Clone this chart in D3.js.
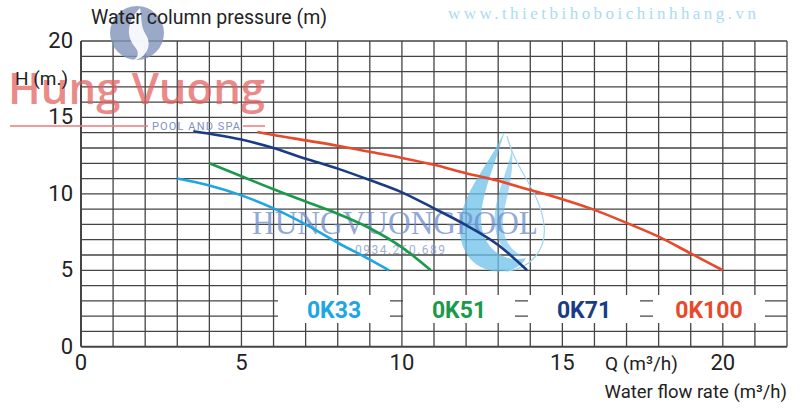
<!DOCTYPE html>
<html>
<head>
<meta charset="utf-8">
<script src="https://cdn.jsdelivr.net/npm/d3@7"></script>
<style>
  html, body { margin: 0; padding: 0; background: #fff; }
  svg { display: block; }
</style>
</head>
<body>
<svg id="chart" width="800" height="413"></svg>
<script>
// ---- Data ----
const xTickLabels = [0, 5, 10, 15, 20];
const yTickLabels = [0, 5, 10, 15, 20];
const seriesNames = ["0K33", "0K51", "0K71", "0K100"];
const seriesColors = ["#1da6e3", "#1b9a4b", "#1a3b85", "#e8492b"];
const q0K33  = [3, 4, 5, 6, 7, 8, 9, 9.6];
const h0K33  = [11, 10.55, 9.9, 9.05, 8.0, 6.8, 5.7, 5.0];
const q0K51  = [4, 5, 6, 7, 8, 9, 10, 10.9];
const h0K51  = [12, 11.15, 10.3, 9.5, 8.7, 7.75, 6.5, 5.0];
const q0K71  = [3.5, 5, 6, 7, 8, 9, 10, 11, 12, 13, 13.9];
const h0K71  = [14.1, 13.55, 13.0, 12.3, 11.65, 10.9, 10.1, 9.05, 7.95, 6.65, 5.0];
const q0K100 = [5.5, 6, 7, 8, 9, 10, 11, 12, 13, 14, 15, 16, 17, 18, 19, 20];
const h0K100 = [14.05, 13.85, 13.5, 13.15, 12.75, 12.35, 11.9, 11.35, 10.85, 10.25, 9.65, 8.95, 8.1, 7.2, 6.1, 5.0];
const seriesQ = [q0K33, q0K51, q0K71, q0K100];
const seriesH = [h0K33, h0K51, h0K71, h0K100];

// ---- Layout ----
const svg = d3.select("#chart");
const pL = 81, pR = 787, pT = 41, pB = 346.7;
const x = d3.scaleLinear().domain([0, 22]).range([pL, pR]);
const y = d3.scaleLinear().domain([0, 20]).range([pB, pT]);
const font = "Roboto, 'Noto Sans', sans-serif";

// ---- Grid ----
const grid = svg.append("g");
grid.selectAll("line.v").data(d3.range(0, 23)).enter().append("line")
  .attr("x1", d => x(d)).attr("x2", d => x(d))
  .attr("y1", pT).attr("y2", pB)
  .attr("stroke", "#454545").attr("stroke-width", d => d === 0 ? 2 : 1.3);
grid.selectAll("line.h").data(d3.range(0, 21)).enter().append("line")
  .attr("x1", pL).attr("x2", pR)
  .attr("y1", d => y(d)).attr("y2", d => y(d))
  .attr("stroke", "#454545").attr("stroke-width", d => d === 0 ? 2 : 1.3);

// ---- Watermarks (drawn under the data) ----
const wm = svg.append("g");
// droplet
wm.append("path")
  .attr("d", "M505,130 C490,165 458,195 460,232 C462,262 485,274 505,271 C515,270 522,265 526,258 C512,262 492,256 484,236 C474,210 492,175 505,130 Z")
  .attr("fill", "#6cc0ea").attr("opacity", 0.75);
wm.append("path")
  .attr("d", "M512,150 C505,180 490,205 496,232 C500,250 512,258 522,256 C508,250 500,232 504,212 C507,195 514,175 512,150 Z")
  .attr("fill", "#6cc0ea").attr("opacity", 0.6);
wm.append("path")
  .attr("d", "M507,136 C515,170 540,190 544,225 C547,250 530,270 505,271")
  .attr("fill", "none").attr("stroke", "#9fd4ef").attr("stroke-width", 1.2);
// circle logo
wm.append("circle").attr("cx", 137).attr("cy", 33).attr("r", 27).attr("fill", "#8294bb").attr("opacity", 0.8);
wm.append("path")
  .attr("d", "M140,8 C128,20 125,35 135,47 C140,53 138,58 132,61 C148,58 152,44 146,35 C140,26 142,16 140,8 Z")
  .attr("fill", "#fff").attr("opacity", 0.9);
wm.append("text").attr("x", 8).attr("y", 104).attr("font-family", "'Open Sans', sans-serif")
  .attr("font-size", 44).attr("font-weight", 600).attr("fill", "#e25e5c").attr("opacity", 0.72)
  .attr("textLength", 257).attr("lengthAdjust", "spacingAndGlyphs").text("Hung Vuong");
wm.append("line").attr("x1", 10).attr("x2", 148).attr("y1", 126).attr("y2", 126).attr("stroke", "#e87c7c").attr("stroke-width", 1.5);
wm.append("line").attr("x1", 243).attr("x2", 265).attr("y1", 126).attr("y2", 126).attr("stroke", "#e87c7c").attr("stroke-width", 1.5);
wm.append("text").attr("x", 152).attr("y", 130).attr("font-family", font).attr("font-size", 11)
  .attr("fill", "#8090c0").attr("textLength", 88).text("POOL AND SPA");
wm.append("text").attr("x", 448).attr("y", 19).attr("font-family", "'Liberation Serif', serif")
  .attr("font-size", 17).attr("fill", "#a8dcf2").attr("textLength", 308).text("www.thietbihoboichinhhang.vn");
wm.append("text").attr("x", 252).attr("y", 234).attr("font-family", "'Liberation Serif', serif")
  .attr("font-size", 34).attr("fill", "#6e8ccc").attr("opacity", 0.75).attr("textLength", 286)
  .attr("lengthAdjust", "spacingAndGlyphs").text("HUNGVUONGPOOL");
wm.append("text").attr("x", 355).attr("y", 254).attr("font-family", font)
  .attr("font-size", 12).attr("fill", "#8a9acb").attr("opacity", 0.8).attr("textLength", 90).text("0934.260.689");

// ---- Legend boxes (white) with labels ----
const boxW = 112, boxGap = 13, boxX0 = 278;
const legend = svg.append("g");
seriesNames.forEach((name, i) => {
  const bx = boxX0 + i * (boxW + boxGap);
  legend.append("rect").attr("x", bx).attr("y", 295).attr("width", boxW).attr("height", 28)
    .attr("fill", "#fff");
  legend.append("text").attr("x", bx + boxW / 2).attr("y", 318)
    .attr("text-anchor", "middle").attr("font-family", font).attr("font-weight", "bold")
    .attr("font-size", 23).attr("fill", seriesColors[i]).text(name);
});

// ---- Curves ----
const line = d3.line().x(d => x(d[0])).y(d => y(d[1])).curve(d3.curveMonotoneX);
seriesNames.forEach((name, i) => {
  const pts = seriesQ[i].map((q, j) => [q, seriesH[i][j]]);
  svg.append("path").datum(pts).attr("d", line)
    .attr("fill", "none").attr("stroke", seriesColors[i]).attr("stroke-width", 2.6);
});

// ---- Tick labels ----
svg.append("g").selectAll("text").data(yTickLabels).enter().append("text")
  .attr("x", 73).attr("y", d => y(d) + 7)
  .attr("text-anchor", "end").attr("font-family", font).attr("font-size", 22)
  .attr("fill", "#222").text(d => d);
svg.append("g").selectAll("text").data(xTickLabels).enter().append("text")
  .attr("x", d => x(d)).attr("y", 370)
  .attr("text-anchor", "middle").attr("font-family", font).attr("font-size", 22)
  .attr("fill", "#222").text(d => d);

// ---- Axis titles ----
svg.append("text").attr("x", 91).attr("y", 24).attr("font-family", font).attr("font-size", 19.5)
  .attr("fill", "#222").text("Water column pressure (m)");
svg.append("text").attr("x", 15).attr("y", 85).attr("font-family", font).attr("font-size", 19)
  .attr("fill", "#222").text("H (m.)");
svg.append("text").attr("x", 605).attr("y", 370).attr("font-family", font).attr("font-size", 19)
  .attr("fill", "#222").text("Q (m³/h)");
svg.append("text").attr("x", 787).attr("y", 398).attr("text-anchor", "end").attr("font-family", font).attr("font-size", 18.5)
  .attr("fill", "#222").text("Water flow rate (m³/h)");
</script>
</body>
</html>
